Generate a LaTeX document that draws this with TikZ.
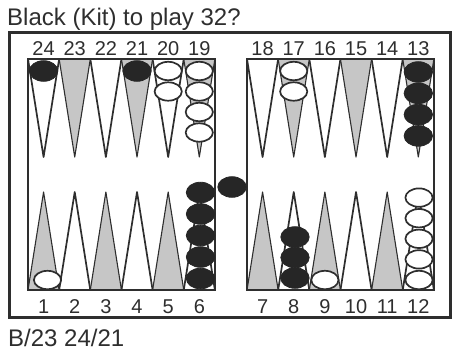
\documentclass[tikz,border=0pt]{standalone}
\usepackage{fontspec}
\setmainfont{Liberation Sans}
\definecolor{boardink}{HTML}{2E2E2E}
\definecolor{pointshade}{HTML}{C6C6C6}
\definecolor{chkblack}{HTML}{262626}
\tikzset{
  frame/.style={draw=boardink, line width=3pt},
  boardedge/.style={draw=boardink, line width=1.6pt},
  lightpt/.style={draw=boardink, line width=1.7pt, fill=white, line join=round},
  darkpt/.style={draw=boardink, line width=1.1pt, fill=pointshade, line join=round},
  blackchk/.style={draw=chkblack, line width=0.8pt, fill=chkblack, x radius=14.2pt, y radius=10.3pt},
  whitechk/.style={draw=boardink, line width=1.7pt, fill=white, x radius=13.6pt, y radius=9.2pt},
  numlabel/.style={anchor=base, inner sep=0pt, font=\fontsize{20}{24}\selectfont, text=boardink},
  caption/.style={anchor=base west, inner sep=0pt, font=\fontsize{24}{28}\selectfont, text=boardink}
}

\begin{document}
\begin{tikzpicture}[x=1pt, y=-1pt]
  \useasboundingbox (0,0) rectangle (454,356);

  % points
  \foreach \x in {28,247} {
    \foreach \c in {0,2,4} {
      \draw[lightpt] ({\x+31.15*\c},59) -- ({\x+31.15*\c+15.575},157) -- ({\x+31.15*(\c+1)},59) -- cycle;
      \draw[darkpt] ({\x+31.15*\c},290) -- ({\x+31.15*\c+15.575},192) -- ({\x+31.15*(\c+1)},290) -- cycle;
    }
    \foreach \c in {1,3,5} {
      \draw[darkpt] ({\x+31.15*\c},59) -- ({\x+31.15*\c+15.575},157) -- ({\x+31.15*(\c+1)},59) -- cycle;
      \draw[lightpt] ({\x+31.15*\c},290) -- ({\x+31.15*\c+15.575},192) -- ({\x+31.15*(\c+1)},290) -- cycle;
    }
  }

  % frame and boards
  \draw[frame] (9,32.5) rectangle (450,317.5);
  \draw[boardedge] (28,59) rectangle (214.9,290);
  \draw[boardedge] (247,59) rectangle (433.9,290);

  % point numbers
  \foreach \n [count=\c from 0] in {24,23,22,21,20,19}
    \node[numlabel] (num\n) at ({28+31.15*\c+15.575},55) {\n};
  \foreach \n [count=\c from 0] in {18,17,16,15,14,13}
    \node[numlabel] (num\n) at ({247+31.15*\c+15.575},55) {\n};
  \foreach \n [count=\c from 0] in {1,2,3,4,5,6}
    \node[numlabel] (num\n) at ({28+31.15*\c+15.575},313) {\n};
  \foreach \n [count=\c from 0] in {7,8,9,10,11,12}
    \node[numlabel] (num\n) at ({247+31.15*\c+15.575},313) {\n};

  % checkers, top
  \draw[blackchk] (43.6,71) ellipse[];
  \draw[blackchk] (137.0,71) ellipse[];
  \foreach \k in {0,1} \draw[whitechk] (168.2,{71+20.5*\k}) ellipse[];
  \foreach \k in {0,...,3} \draw[whitechk] (199.3,{71+20.5*\k}) ellipse[];
  \foreach \k in {0,1} \draw[whitechk] (293.7,{71+20.5*\k}) ellipse[];
  \foreach \k in {0,...,3} \draw[blackchk] (418.3,{72+21.3*\k}) ellipse[];

  % checkers, bottom
  \draw[whitechk] (47.5,280) ellipse[];
  \foreach \k in {0,...,4} \draw[blackchk] (200.5,{278.5-21.5*\k}) ellipse[];
  \foreach \k in {0,1,2} \draw[blackchk] (295,{278-20.5*\k}) ellipse[];
  \draw[whitechk] (324.9,280) ellipse[];
  \foreach \k in {0,...,4} \draw[whitechk] (419,{280-20.6*\k}) ellipse[];

  % on the bar
  \draw[blackchk] (232,187) ellipse[];

  \node[caption] (title) at (7,25) {Black (Kit) to play 32?};
  \node[caption] (move) at (8,346) {B/23 24/21};
\end{tikzpicture}
\end{document}
